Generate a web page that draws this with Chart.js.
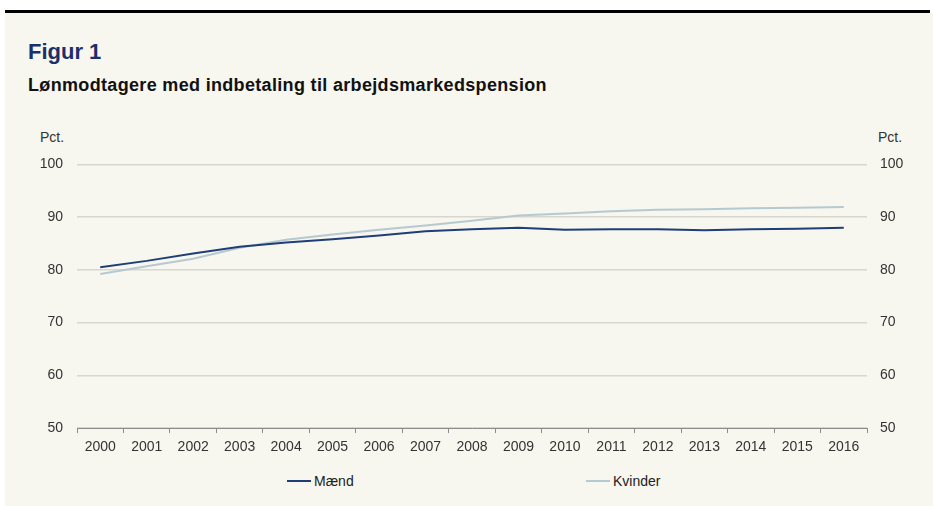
<!DOCTYPE html>
<html>
<head>
<meta charset="utf-8">
<script src="https://cdn.jsdelivr.net/npm/chart.js@4"></script>
<style>
html,body{margin:0;padding:0;background:#fff;width:933px;height:506px;overflow:hidden;font-family:"Liberation Sans",Arial,sans-serif;}
#topline{position:absolute;left:5px;top:10px;width:925px;height:3px;background:#000;}
#panel{position:absolute;left:5px;top:13px;width:928px;height:493px;background:#f7f6ef;}
.t{position:absolute;white-space:nowrap;}
#title{left:28px;top:39px;font-size:22px;font-weight:bold;color:#1b2f6b;}
#sub{left:28px;top:75px;font-size:18px;font-weight:bold;color:#111;letter-spacing:0.33px;}
.pct{top:129px;font-size:14px;color:#333;}
#wrap{position:absolute;left:0;top:142px;width:933px;height:328px;}
.leg{position:absolute;top:473px;font-size:14px;color:#222;}
.leg span.l{display:inline-block;width:24px;height:2px;vertical-align:middle;margin-right:3px;position:relative;top:-1px;}
</style>
</head>
<body>
<div id="topline"></div>
<div id="panel"></div>
<div class="t" id="title">Figur 1</div>
<div class="t" id="sub">Lønmodtagere med indbetaling til arbejdsmarkedspension</div>
<div class="t pct" style="left:40px">Pct.</div>
<div class="t pct" style="left:878px">Pct.</div>
<div id="wrap"><canvas id="c" width="933" height="328"></canvas></div>
<div class="leg" style="left:287px"><span class="l" style="background:#1f3e78"></span>Mænd</div>
<div class="leg" style="left:586px"><span class="l" style="background:#b7c9d0"></span>Kvinder</div>
<script>
const years = ['2000','2001','2002','2003','2004','2005','2006','2007','2008','2009','2010','2011','2012','2013','2014','2015','2016'];
const maend = [80.5, 81.7, 83.1, 84.4, 85.2, 85.8, 86.5, 87.3, 87.7, 88.0, 87.6, 87.7, 87.7, 87.5, 87.7, 87.8, 88.0];
const kvinder = [79.2, 80.7, 82.1, 84.2, 85.7, 86.7, 87.6, 88.4, 89.3, 90.3, 90.7, 91.1, 91.4, 91.5, 91.7, 91.8, 91.9];
const yTicks = [50, 60, 70, 80, 90, 100];

const fontSpec = {family: '"Liberation Sans", Arial, sans-serif', size: 14};
new Chart(document.getElementById('c'), {
  type: 'line',
  data: {
    labels: years,
    datasets: [
      {label: 'Mænd', data: maend, borderColor: '#1f3e78', borderWidth: 2, pointRadius: 0, tension: 0, yAxisID: 'y'},
      {label: 'Kvinder', data: kvinder, borderColor: '#b7c9d0', borderWidth: 2, pointRadius: 0, tension: 0, yAxisID: 'y'}
    ]
  },
  options: {
    responsive: false,
    animation: false,
    layout: {padding: {top: 14, bottom: 0, left: 0, right: 0}},
    plugins: {legend: {display: false}, tooltip: {enabled: false}},
    scales: {
      x: {
        offset: true,
        grid: {offset: true, drawOnChartArea: false, drawTicks: true, tickLength: 5, color: '#8c8c8c', lineWidth: 1},
        border: {display: true, color: '#8c8c8c', width: 1},
        ticks: {color: '#333', font: fontSpec, padding: 6, maxRotation: 0, autoSkip: false},
        afterFit: s => { s.height = 42; }
      },
      y: {
        position: 'left',
        min: 50, max: 100,
        afterBuildTicks: s => { s.ticks = yTicks.map(v => ({value: v})); },
        grid: {drawTicks: false, color: '#d8d7cf', lineWidth: 1.5},
        border: {display: false},
        ticks: {color: '#333', font: fontSpec, padding: 14},
        afterFit: s => { s.width = 77; }
      },
      y2: {
        position: 'right',
        min: 50, max: 100,
        afterBuildTicks: s => { s.ticks = yTicks.map(v => ({value: v})); },
        grid: {display: false, drawTicks: false},
        border: {display: false},
        ticks: {color: '#333', font: fontSpec, padding: 13},
        afterFit: s => { s.width = 66; }
      }
    }
  }
});
</script>
</body>
</html>
